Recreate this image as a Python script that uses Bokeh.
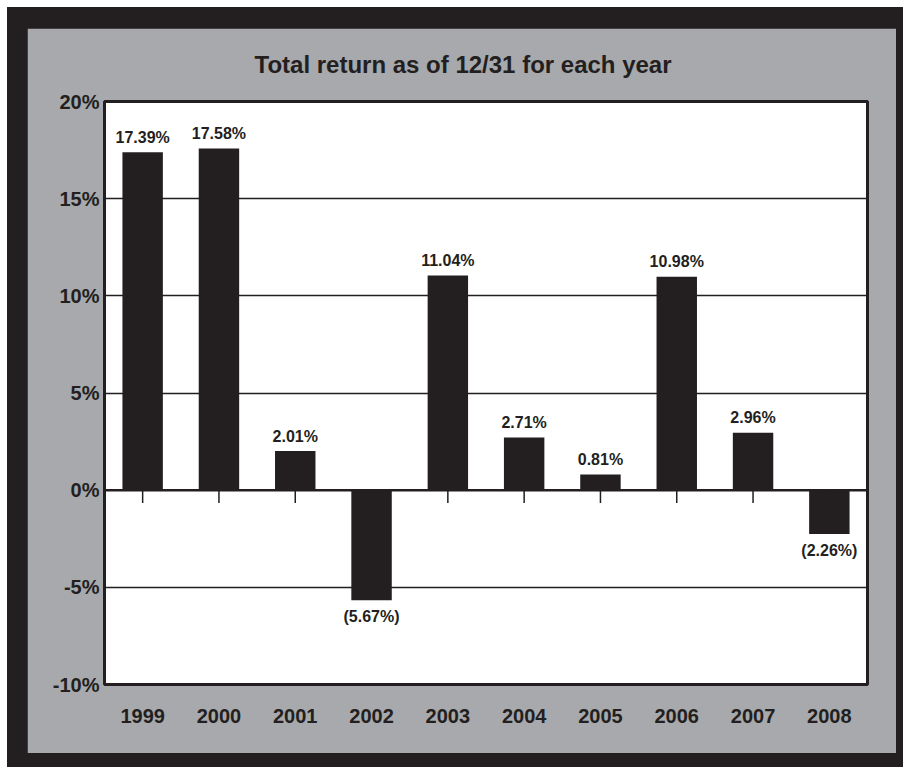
from bokeh.plotting import figure
from bokeh.models import FixedTicker, Span, ColumnDataSource
from bokeh.layouts import column
from bokeh.embed import file_html
from bokeh.resources import INLINE
from bokeh.core.properties import value

# ---- data ----
years = ["1999", "2000", "2001", "2002", "2003", "2004", "2005", "2006", "2007", "2008"]
returns = [17.39, 17.58, 2.01, -5.67, 11.04, 2.71, 0.81, 10.98, 2.96, -2.26]
y_ticks = [-10, -5, 0, 5, 10, 15, 20]
y_tick_labels = ["-10%", "-5%", "0%", "5%", "10%", "15%", "20%"]
title_text = "Total return as of 12/31 for each year"

INK = "#231f20"
GREY = "#a7a9ac"
FONT = "Liberation Sans"

labels = [f"{v:.2f}%" if v >= 0 else f"({abs(v):.2f}%)" for v in returns]
pos = [i for i, v in enumerate(returns) if v >= 0]
neg = [i for i, v in enumerate(returns) if v < 0]

src_bar = ColumnDataSource(dict(x=years, top=returns))
src_pos = ColumnDataSource(dict(x=[years[i] for i in pos], y=[returns[i] for i in pos], t=[labels[i] for i in pos]))
src_neg = ColumnDataSource(dict(x=[years[i] for i in neg], y=[returns[i] for i in neg], t=[labels[i] for i in neg]))

p = figure(x_range=years, y_range=(-10, 20), width=869, height=725,
           output_backend="svg", toolbar_location=None,
           min_border_left=77, min_border_right=29, min_border_top=73, min_border_bottom=69)

p.background_fill_color = "white"
p.border_fill_color = GREY
p.outline_line_color = INK
p.outline_line_width = 3

# title
p.title.text = title_text
p.title.align = "left"
p.title.vertical_align = "top"
p.title.text_font = FONT
p.title.text_font_size = "24px"
p.title.text_font_style = "bold"
p.title.text_color = INK
p.title.standoff = 44
p.title.offset = 150

# grid
p.xgrid.grid_line_color = None
p.ygrid.ticker = FixedTicker(ticks=[-5, 5, 10, 15])
p.ygrid.grid_line_color = INK
p.ygrid.grid_line_width = 1.3

zero = Span(location=0, dimension="width", line_color=INK, line_width=2.5, level="underlay")
p.add_layout(zero)

# bars
p.vbar(x="x", top="top", bottom=0, width=0.53, source=src_bar, fill_color=INK, line_color=None)

# small tick marks below the zero line
p.segment(x0=years, y0=[0] * len(years), x1=years, y1=[-0.66] * len(years),
          line_color=INK, line_width=1.5)

# value labels
p.text(x="x", y="y", text="t", source=src_pos, text_align="center", text_baseline="alphabetic",
       y_offset=-15, text_font=value(FONT), text_font_size="16px", text_font_style="bold",
       text_color=INK)
p.text(x="x", y="y", text="t", source=src_neg, text_align="center", text_baseline="alphabetic",
       y_offset=16, text_font=value(FONT), text_font_size="16px", text_font_style="bold",
       text_color=INK)

# axes
p.yaxis.ticker = FixedTicker(ticks=y_ticks)
p.yaxis.major_label_overrides = dict(zip(y_ticks, y_tick_labels))
for ax in (p.xaxis[0], p.yaxis[0]):
    ax.axis_line_color = None
    ax.major_tick_line_color = None
    ax.minor_tick_line_color = None
    ax.major_tick_out = 0
    ax.minor_tick_out = 0
    ax.major_label_text_font = FONT
    ax.major_label_text_font_size = "20px"
    ax.major_label_text_font_style = "bold"
    ax.major_label_text_color = INK
p.yaxis.major_label_standoff = 5
p.xaxis.major_label_standoff = 24

layout = column(p, styles={"background-color": INK, "padding": "21px 7px 14px 20px",
                           "margin-left": "7px", "margin-top": "7px"})

open("out.html", "w").write(file_html(layout, INLINE))
